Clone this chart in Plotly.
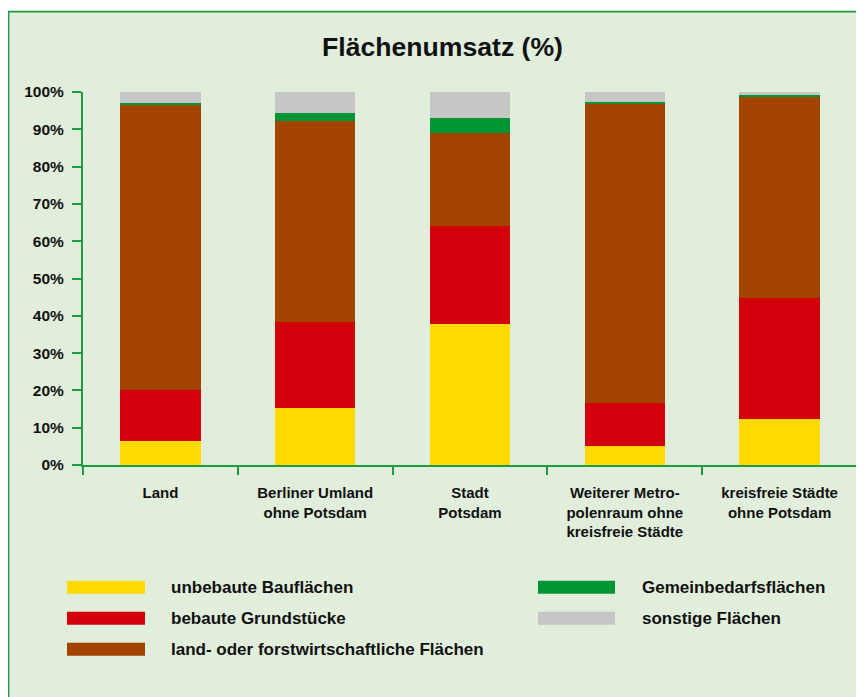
import plotly.graph_objects as go

# ---- data ----
categories = [
    "Land",
    "Berliner Umland<br>ohne Potsdam",
    "Stadt<br>Potsdam",
    "Weiterer Metro-<br>polenraum ohne<br>kreisfreie Städte",
    "kreisfreie Städte<br>ohne Potsdam",
]
series_names = [
    "unbebaute Bauflächen",
    "bebaute Grundstücke",
    "land- oder forstwirtschaftliche Flächen",
    "Gemeinbedarfsflächen",
    "sonstige Flächen",
]
unbebaute = [6.4, 15.3, 37.8, 5.1, 12.3]
bebaute = [13.7, 23.1, 26.3, 11.5, 32.5]
landforst = [76.3, 53.9, 24.9, 80.3, 53.9]
gemeinbedarf = [0.7, 2.1, 4.1, 0.5, 0.4]
sonstige = [2.9, 5.6, 6.9, 2.6, 0.9]
y_tick_values = [0, 10, 20, 30, 40, 50, 60, 70, 80, 90, 100]
y_tick_labels = ["0%", "10%", "20%", "30%", "40%", "50%",
                 "60%", "70%", "80%", "90%", "100%"]

colors = ["#FFDA00", "#D3000C", "#A24400", "#009634", "#C5C6C5"]
series_values = [unbebaute, bebaute, landforst, gemeinbedarf, sonstige]

# ---- geometry (page pixels; the page body has an 8px margin) ----
OFF = 8
W, H = 856, 689
PLOT_LEFT, PLOT_RIGHT, PLOT_TOP, PLOT_BOTTOM = 83, 857, 92, 465
L = PLOT_LEFT - OFF
R = W - (PLOT_RIGHT - OFF)
T = PLOT_TOP - OFF
B = H - (PLOT_BOTTOM - OFF)
PW = W - L - R
PH = H - T - B
BG = "#E0EEDB"
GREEN = "#1F9B45"
FONT = "Liberation Sans, Arial"


def px_x(x):
    return (x - PLOT_LEFT) / PW


def px_y(y):
    return (PLOT_BOTTOM - y) / PH


fig = go.Figure()
for name, vals, col in zip(series_names, series_values, colors):
    fig.add_trace(go.Bar(
        x=categories, y=vals, name=name, marker_color=col,
        marker_line_width=0, showlegend=False, hoverinfo="skip",
    ))

shapes = [
    dict(type="rect", xref="paper", yref="paper", layer="below",
         x0=px_x(8.6), x1=px_x(W + 40), y0=px_y(H + 40), y1=px_y(11.6),
         fillcolor=BG, line=dict(color=GREEN, width=1.6)),
]
annotations = []

# custom legend
legend_pos = [
    (67, 145, 169, 587.3),
    (67, 145, 169, 618.2),
    (67, 145, 169, 649.3),
    (538, 615, 640, 587.3),
    (538, 615, 640, 618.2),
]
for (sx0, sx1, tx, cy), name, col in zip(legend_pos, series_names, colors):
    shapes.append(dict(type="rect", xref="paper", yref="paper",
                       x0=px_x(sx0), x1=px_x(sx1),
                       y0=px_y(cy + 6.5), y1=px_y(cy - 6.5),
                       fillcolor=col, line=dict(width=0)))
    annotations.append(dict(text=name, xref="paper", yref="paper",
                            x=px_x(tx), y=px_y(cy), xanchor="left",
                            yanchor="middle", showarrow=False,
                            font=dict(family=FONT, size=17,
                                      color="#111111", weight="bold")))

fig.update_layout(
    width=W, height=H,
    margin=dict(l=L, r=R, t=T, b=B, pad=0),
    paper_bgcolor="white",
    plot_bgcolor="rgba(0,0,0,0)",
    barmode="stack",
    bargap=0.48,
    title=dict(text="Flächenumsatz (%)", x=(442.5 - OFF) / W,
               y=1 - (47 - OFF) / H,
               xref="container", yref="container",
               xanchor="center", yanchor="middle",
               font=dict(family=FONT, size=26.6,
                         color="#111111", weight="bold")),
    shapes=shapes,
    annotations=annotations,
    font=dict(family=FONT, color="#111111"),
)
fig.update_xaxes(
    showline=True, linecolor=GREEN, linewidth=2,
    ticks="outside", tickson="boundaries", ticklen=8, tickwidth=2,
    tickcolor=GREEN, showgrid=False,
    tickfont=dict(family=FONT, size=15, color="#111111", weight="bold"),
    ticklabelstandoff=13,
)
fig.update_yaxes(
    range=[0, 100], tickmode="array", tickvals=y_tick_values,
    ticktext=y_tick_labels,
    showline=True, linecolor=GREEN, linewidth=2,
    ticks="outside", ticklen=9, tickwidth=2, tickcolor=GREEN,
    showgrid=False, zeroline=False,
    tickfont=dict(family=FONT, size=15.5, color="#111111", weight="bold"),
    ticklabelstandoff=5,
)

fig.write_html("out.html")
